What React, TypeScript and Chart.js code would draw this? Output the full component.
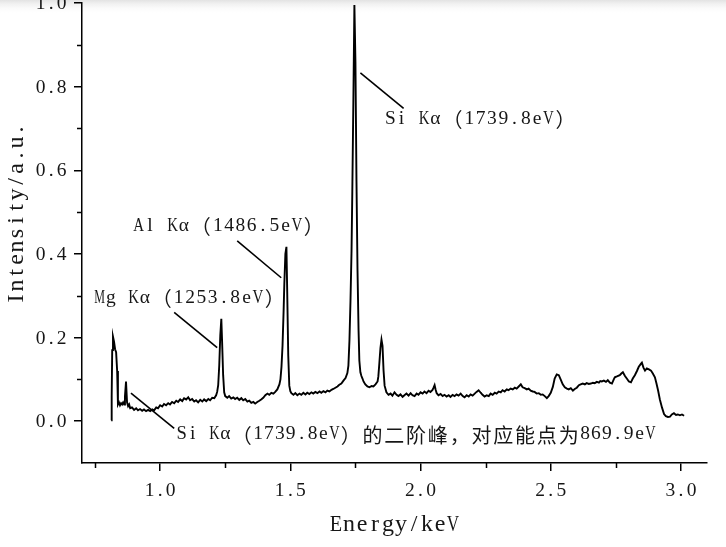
import React, { useEffect, useRef } from 'react';
import { Chart, registerables } from 'chart.js';

Chart.register(...registerables);

// ---- data ----
const energyKeV = [
  0.812, 0.814, 0.816, 0.819, 0.823, 0.827, 0.831, 0.835, 0.838, 0.842, 0.846, 0.850, 0.854, 0.858, 0.862, 0.865,
  0.869, 0.873, 0.877, 0.881, 0.885, 0.892, 0.900, 0.908, 0.915, 0.923, 0.931, 0.938, 0.946, 0.954, 0.962, 0.970,
  0.977, 0.985, 0.992, 1.000, 1.008, 1.015, 1.023, 1.031, 1.038, 1.046, 1.054, 1.062, 1.069, 1.077, 1.085, 1.092,
  1.100, 1.108, 1.115, 1.123, 1.131, 1.138, 1.146, 1.154, 1.162, 1.169, 1.177, 1.185, 1.192, 1.200, 1.208, 1.215,
  1.219, 1.223, 1.227, 1.231, 1.235, 1.238, 1.242, 1.246,
  1.250, 1.258, 1.265, 1.273, 1.281, 1.288, 1.296, 1.304, 1.312, 1.319, 1.327, 1.335, 1.342, 1.350, 1.358, 1.365,
  1.373, 1.381, 1.388, 1.396, 1.404, 1.412, 1.419, 1.427, 1.435, 1.442, 1.450, 1.458, 1.462, 1.466, 1.470, 1.474,
  1.477, 1.481, 1.485, 1.488, 1.492, 1.496, 1.500, 1.504,
  1.512, 1.519, 1.527, 1.535, 1.542, 1.550, 1.558, 1.565, 1.573, 1.581, 1.588, 1.596, 1.604, 1.612, 1.619, 1.627,
  1.635, 1.642, 1.650, 1.658, 1.665, 1.673, 1.681, 1.688, 1.696, 1.704, 1.712, 1.719, 1.723, 1.727, 1.731, 1.735,
  1.738, 1.742, 1.746, 1.750, 1.754, 1.758, 1.762, 1.765, 1.769, 1.773, 1.777, 1.781, 1.788, 1.796, 1.804, 1.812,
  1.819, 1.827, 1.835, 1.838, 1.842, 1.846, 1.850, 1.854, 1.858, 1.862, 1.869, 1.877,
  1.885, 1.892, 1.900, 1.908, 1.915, 1.923, 1.931, 1.938, 1.946, 1.954, 1.962, 1.969, 1.977, 1.985, 1.992, 2.000,
  2.008, 2.015, 2.023, 2.031, 2.038, 2.046, 2.050, 2.054, 2.058, 2.062, 2.069, 2.077, 2.085, 2.092, 2.100, 2.108,
  2.115, 2.123, 2.131, 2.138, 2.146, 2.154, 2.162, 2.169, 2.177, 2.185, 2.192, 2.200, 2.208, 2.215, 2.223, 2.231,
  2.238, 2.246, 2.254, 2.262, 2.269, 2.277, 2.285, 2.292, 2.300, 2.308, 2.315, 2.323, 2.331, 2.338, 2.346, 2.354,
  2.362, 2.369, 2.377, 2.385, 2.392, 2.400, 2.408, 2.415, 2.423, 2.431, 2.438, 2.446, 2.454, 2.462, 2.469, 2.477,
  2.485, 2.492, 2.500, 2.508, 2.515, 2.523, 2.531, 2.538,
  2.546, 2.554, 2.562, 2.569, 2.577, 2.585, 2.592, 2.600, 2.608, 2.615, 2.623, 2.631, 2.638, 2.646, 2.654, 2.662,
  2.669, 2.677, 2.685, 2.690,
  2.696, 2.704, 2.712, 2.719, 2.727, 2.735, 2.742, 2.746, 2.754, 2.765, 2.771, 2.777, 2.785, 2.792, 2.800, 2.808,
  2.815, 2.823, 2.831, 2.838, 2.846, 2.850, 2.856, 2.862, 2.869, 2.877, 2.885, 2.892, 2.900, 2.906, 2.912, 2.919,
  2.927, 2.935, 2.942, 2.950, 2.958, 2.965, 2.973, 2.981, 2.988, 2.996, 3.004, 3.012, 3.015,
];

const intensity = [
  0.002, 0.060, 0.170, 0.202, 0.190, 0.172, 0.165, 0.120, 0.040, 0.045, 0.038, 0.043, 0.040, 0.045, 0.040, 0.060,
  0.095, 0.045, 0.036, 0.040, 0.031, 0.033, 0.027, 0.031, 0.026, 0.029, 0.025, 0.028, 0.024, 0.027, 0.024, 0.028,
  0.026, 0.033, 0.031, 0.038, 0.035, 0.041, 0.038, 0.043, 0.040, 0.046, 0.043, 0.049, 0.046, 0.052, 0.048, 0.055,
  0.052, 0.057, 0.050, 0.053, 0.047, 0.050, 0.045, 0.051, 0.047, 0.052, 0.048, 0.053, 0.050, 0.056, 0.055, 0.062,
  0.070, 0.086, 0.133, 0.205, 0.245, 0.190, 0.110, 0.069,
  0.060, 0.056, 0.060, 0.054, 0.057, 0.053, 0.056, 0.051, 0.055, 0.050, 0.053, 0.047, 0.049, 0.044, 0.046, 0.042,
  0.046, 0.049, 0.052, 0.056, 0.062, 0.066, 0.063, 0.068, 0.066, 0.070, 0.076, 0.088, 0.100, 0.130, 0.180, 0.260,
  0.330, 0.400, 0.417, 0.310, 0.157, 0.085, 0.072, 0.067,
  0.063, 0.067, 0.062, 0.066, 0.063, 0.068, 0.064, 0.068, 0.065, 0.069, 0.066, 0.070, 0.067, 0.071, 0.068, 0.072,
  0.069, 0.073, 0.071, 0.075, 0.077, 0.080, 0.083, 0.087, 0.090, 0.097, 0.103, 0.115, 0.133, 0.193, 0.288, 0.407,
  0.550, 0.764, 0.995, 0.860, 0.574, 0.360, 0.217, 0.145, 0.117, 0.108, 0.102, 0.095, 0.088, 0.083, 0.081, 0.084,
  0.083, 0.088, 0.095, 0.107, 0.140, 0.175, 0.195, 0.180, 0.121, 0.085, 0.069, 0.063,
  0.066, 0.061, 0.069, 0.063, 0.060, 0.064, 0.058, 0.062, 0.066, 0.061, 0.067, 0.062, 0.060, 0.066, 0.063, 0.069,
  0.066, 0.071, 0.067, 0.073, 0.070, 0.075, 0.080, 0.086, 0.075, 0.067, 0.062, 0.065, 0.060, 0.063, 0.059, 0.062,
  0.058, 0.063, 0.060, 0.064, 0.061, 0.066, 0.060, 0.057, 0.062, 0.059, 0.064, 0.061, 0.066, 0.070, 0.074, 0.068,
  0.063, 0.059, 0.062, 0.060, 0.066, 0.063, 0.068, 0.066, 0.071, 0.069, 0.074, 0.071, 0.076, 0.074, 0.078, 0.076,
  0.080, 0.078, 0.083, 0.088, 0.081, 0.079, 0.076, 0.078, 0.073, 0.071, 0.070, 0.066, 0.067, 0.063, 0.064, 0.060,
  0.055, 0.060, 0.068, 0.082, 0.102, 0.112, 0.110, 0.100,
  0.088, 0.081, 0.078, 0.076, 0.079, 0.073, 0.077, 0.080, 0.086, 0.088, 0.090, 0.088, 0.091, 0.089, 0.090, 0.092,
  0.091, 0.094, 0.092, 0.096,
  0.095, 0.097, 0.094, 0.098, 0.092, 0.090, 0.100, 0.105, 0.107, 0.110, 0.114, 0.117, 0.108, 0.102, 0.095, 0.093,
  0.102, 0.110, 0.120, 0.130, 0.137, 0.140, 0.128, 0.121, 0.126, 0.124, 0.121, 0.114, 0.105, 0.090, 0.074, 0.052,
  0.033, 0.017, 0.012, 0.010, 0.011, 0.016, 0.019, 0.015, 0.016, 0.014, 0.016, 0.013, 0.013,
];

const xMajorValues = [1.0, 1.5, 2.0, 2.5, 3.0];
const xTickLabels = ['1.0', '1.5', '2.0', '2.5', '3.0'];
const yMajorValues = [0.0, 0.2, 0.4, 0.6, 0.8, 1.0];
const yTickLabels = ['0.0', '0.2', '0.4', '0.6', '0.8', '1.0'];
const xTitle = 'Energy/keV';
const yTitle = 'Intensity/a.u.';

const annotationTexts = [
  'Si Kα（1739.8eV）',
  'Al Kα（1486.5eV）',
  'Mg Kα（1253.8eV）',
  'Si Kα（1739.8eV）的二阶峰，对应能点为869.9eV',
];
// anchors in data units
const annotationTextX = [1.862, 0.896, 0.746, 1.062];
const annotationTextY = [0.724, 0.467, 0.295, -0.031];
const annotationCell = [11.3, 11.3, 11.3, 10.9];
const leaderX1 = [1.769, 1.296, 1.054, 0.888];
const leaderY1 = [0.833, 0.431, 0.26, 0.067];
const leaderX2 = [1.935, 1.465, 1.219, 1.054];
const leaderY2 = [0.748, 0.343, 0.176, -0.017];

// ---- helpers ----
const TEXT_COLOR = '#161616';
const LATIN_FONT = '"Liberation Serif", "DejaVu Serif", serif';
const CJK_FONT = '"Noto Sans CJK SC", "Noto Sans CJK JP", sans-serif';

function isFull(ch: string) {
  const c = ch.codePointAt(0) || 0;
  return c >= 0x2e80;
}

function drawGridText(
  ctx: CanvasRenderingContext2D,
  text: string,
  x: number,
  y: number,
  cell: number,
  latinPx: number,
  align: 'left' | 'center' | 'right'
) {
  const chars = Array.from(text);
  const cells = chars.reduce((s, c) => s + (isFull(c) ? 2 : 1), 0);
  let cx = align === 'left' ? x : align === 'center' ? x - (cells * cell) / 2 : x - cells * cell;
  ctx.textBaseline = 'middle';
  ctx.fillStyle = TEXT_COLOR;
  for (const ch of chars) {
    if (isFull(ch)) {
      ctx.font = `${Math.round(2 * cell * 0.9)}px ${CJK_FONT}`;
      ctx.textAlign = 'center';
      ctx.fillText(ch, cx + cell, y + 1);
      cx += 2 * cell;
    } else {
      if (ch !== ' ') {
        ctx.font = `${latinPx}px ${LATIN_FONT}`;
        const w = ctx.measureText(ch).width;
        const maxW = cell * 0.95;
        ctx.save();
        ctx.translate(cx + cell / 2, y);
        if (w > maxW) ctx.scale(maxW / w, 1);
        ctx.textAlign = 'center';
        ctx.fillText(ch, 0, 0);
        ctx.restore();
      }
      cx += cell;
    }
  }
}

const isMajorX = (v: number) => Math.abs(v * 2 - Math.round(v * 2)) < 1e-6;
const isMajorY = (v: number) => v > -1e-6 && Math.round(v * 10) % 2 === 0;

const decorPlugin = {
  id: 'decor',
  beforeDraw(chart: any) {
    const ctx: CanvasRenderingContext2D = chart.ctx;
    ctx.save();
    const g = ctx.createLinearGradient(0, 0, 0, 14);
    g.addColorStop(0, 'rgba(215,215,215,0.7)');
    g.addColorStop(1, 'rgba(255,255,255,0)');
    ctx.fillStyle = g;
    ctx.fillRect(0, 0, chart.width, 14);
    ctx.restore();
  },
  afterDraw(chart: any) {
    const ctx: CanvasRenderingContext2D = chart.ctx;
    const xs = chart.scales.x;
    const ys = chart.scales.y;
    const area = chart.chartArea;
    ctx.save();
    // minor ticks
    ctx.strokeStyle = '#000';
    ctx.lineWidth = 1.5;
    ctx.beginPath();
    xs.ticks.forEach((t: any) => {
      if (!isMajorX(t.value)) {
        const px = Math.round(xs.getPixelForValue(t.value)) + 0.5;
        ctx.moveTo(px, area.bottom);
        ctx.lineTo(px, area.bottom + 5);
      }
    });
    ys.ticks.forEach((t: any) => {
      if (!isMajorY(t.value) && t.value > 0) {
        const py = Math.round(ys.getPixelForValue(t.value)) + 0.5;
        ctx.moveTo(area.left, py);
        ctx.lineTo(area.left - 5, py);
      }
    });
    ctx.stroke();

    // tick labels
    xMajorValues.forEach((v, i) => {
      drawGridText(ctx, xTickLabels[i], xs.getPixelForValue(v), area.bottom + 28, 10.6, 19.5, 'center');
    });
    yMajorValues.forEach((v, i) => {
      drawGridText(ctx, yTickLabels[i], area.left - 15, ys.getPixelForValue(v) + 1, 10.6, 19.5, 'right');
    });

    // axis titles
    drawGridText(ctx, xTitle, (area.left + area.right) / 2, area.bottom + 62, 13, 24, 'center');
    ctx.save();
    ctx.translate(17, area.top + 211);
    ctx.rotate(-Math.PI / 2);
    drawGridText(ctx, yTitle, 0, 0, 13, 24, 'center');
    ctx.restore();

    // annotations
    ctx.strokeStyle = '#000';
    ctx.lineWidth = 1.6;
    annotationTexts.forEach((t, i) => {
      ctx.beginPath();
      ctx.moveTo(xs.getPixelForValue(leaderX1[i]), ys.getPixelForValue(leaderY1[i]));
      ctx.lineTo(xs.getPixelForValue(leaderX2[i]), ys.getPixelForValue(leaderY2[i]));
      ctx.stroke();
      drawGridText(
        ctx,
        t,
        xs.getPixelForValue(annotationTextX[i]),
        ys.getPixelForValue(annotationTextY[i]),
        annotationCell[i],
        19.5,
        'left'
      );
    });
    ctx.restore();
  },
};

export default function App() {
  const canvasRef = useRef<HTMLCanvasElement | null>(null);

  useEffect(() => {
    if (!canvasRef.current) return;
    const chart = new Chart(canvasRef.current, {
      type: 'line',
      data: {
        datasets: [
          {
            data: energyKeV.map((e, i) => ({ x: e, y: intensity[i] })),
            borderColor: '#000',
            borderWidth: 1.9,
            pointRadius: 0,
            tension: 0,
            fill: false,
            clip: false as any,
          },
        ],
      },
      options: {
        responsive: false,
        animation: false,
        layout: { padding: { top: 3, right: 19, left: 0, bottom: 0 } },
        plugins: {
          legend: { display: false },
          tooltip: { enabled: false },
          title: { display: false },
        },
        scales: {
          x: {
            type: 'linear',
            min: 0.7,
            max: 3.1,
            afterFit: (s: any) => {
              s.height = 84;
            },
            ticks: { stepSize: 0.25, includeBounds: false, display: false },
            grid: {
              drawOnChartArea: false,
              drawTicks: true,
              tickLength: 8,
              lineWidth: 1.5,
              tickColor: (c: any) => (c.tick && isMajorX(c.tick.value) ? '#000' : 'rgba(0,0,0,0)'),
            },
            border: { display: true, color: '#000', width: 1.5 },
          },
          y: {
            type: 'linear',
            min: -0.1,
            max: 1.0,
            afterFit: (s: any) => {
              s.width = 82;
            },
            ticks: { stepSize: 0.1, includeBounds: false, display: false },
            grid: {
              drawOnChartArea: false,
              drawTicks: true,
              tickLength: 8,
              lineWidth: 1.5,
              tickColor: (c: any) => (c.tick && isMajorY(c.tick.value) ? '#000' : 'rgba(0,0,0,0)'),
            },
            border: { display: true, color: '#000', width: 1.5 },
          },
        },
      } as any,
      plugins: [decorPlugin],
    });
    return () => chart.destroy();
  }, []);

  return (
    <div style={{ position: 'fixed', left: 0, top: 0, width: 726, height: 547, background: '#fff' }}>
      <canvas ref={canvasRef} width={726} height={547} style={{ display: 'block' }} />
    </div>
  );
}
